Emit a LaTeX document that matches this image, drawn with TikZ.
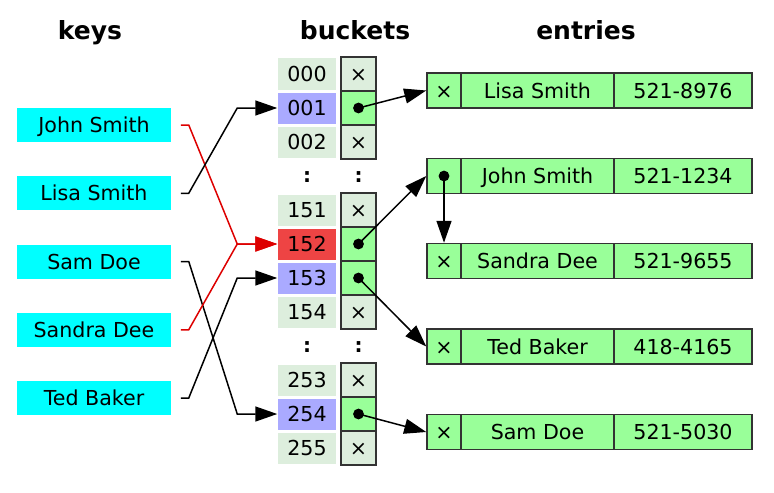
\documentclass[tikz,border=0pt]{standalone}
\usepackage{fontspec}
\setmainfont{DejaVu Sans}
\usetikzlibrary{arrows.meta}

\definecolor{keycyan}{HTML}{00FFFF}
\definecolor{slotgray}{HTML}{DDEEDD}
\definecolor{slotblue}{HTML}{AAAAFF}
\definecolor{slotred}{HTML}{EE4444}
\definecolor{entrygreen}{HTML}{99FF99}
\definecolor{linkred}{HTML}{DD0000}
\definecolor{cellline}{HTML}{333333}

\tikzset{
  key/.style={fill=keycyan, minimum width=77pt, minimum height=17pt, inner sep=0pt},
  slot/.style={fill=slotgray, minimum width=29pt, minimum height=15.5pt, inner sep=0pt},
  ptr/.style={draw=cellline, fill=slotgray, minimum width=17.5pt, minimum height=17pt, inner sep=0pt},
  cell/.style={draw=cellline, fill=entrygreen, minimum height=17.5pt, inner sep=0pt},
  title/.style={font=\fontsize{12.5}{15}\selectfont\bfseries, text height=11.5pt, text depth=2.4pt},
}

\begin{document}
\begin{tikzpicture}[x=0.5pt, y=-0.5pt, line width=0.75pt,
    >={Triangle[length=11pt,width=7.5pt]},
    every node/.style={font=\fontsize{10.3}{12}\selectfont, text height=9.5pt, text depth=2pt}]
    \useasboundingbox (0,0) rectangle (774,492);

    % Titles
    \node[title] (tkeys) at (90,30) {keys};
    \node[title] (tbuckets) at (355,30) {buckets};
    \node[title] (tentries) at (586,30) {entries};

    % Keys
    \node[key] (kjohn) at (94,125) {John Smith};
    \node[key] (klisa) at (94,193.25) {Lisa Smith};
    \node[key] (ksam) at (94,261.5) {Sam Doe};
    \node[key] (ksandra) at (94,329.75) {Sandra Dee};
    \node[key] (kted) at (94,398) {Ted Baker};

    % Bucket indices
    \node[slot] (s000) at (307,74) {000};
    \node[slot,fill=slotblue] (s001) at (307,108) {001};
    \node[slot] (s002) at (307,142) {002};
    \node[slot] (s151) at (307,210) {151};
    \node[slot,fill=slotred] (s152) at (307,244) {152};
    \node[slot,fill=slotblue] (s153) at (307,278) {153};
    \node[slot] (s154) at (307,312) {154};
    \node[slot] (s253) at (307,380) {253};
    \node[slot,fill=slotblue] (s254) at (307,414) {254};
    \node[slot] (s255) at (307,448) {255};
    \node[font=\bfseries] (vdotsa) at (307,175) {:};
    \node[font=\bfseries] (vdotsb) at (307,345) {:};

    % Bucket pointers
    \node[ptr] (p000) at (358.5,74) {×};
    \node[ptr,fill=entrygreen] (p001) at (358.5,108) {};
    \node[ptr] (p002) at (358.5,142) {×};
    \node[ptr] (p151) at (358.5,210) {×};
    \node[ptr,fill=entrygreen] (p152) at (358.5,244) {};
    \node[ptr,fill=entrygreen] (p153) at (358.5,278) {};
    \node[ptr] (p154) at (358.5,312) {×};
    \node[ptr] (p253) at (358.5,380) {×};
    \node[ptr,fill=entrygreen] (p254) at (358.5,414) {};
    \node[ptr] (p255) at (358.5,448) {×};
    \node[font=\bfseries] (vdotsc) at (358.5,175) {:};
    \node[font=\bfseries] (vdotsd) at (358.5,345) {:};

    % Entries
    \node[cell,minimum width=17pt] (e1p) at (444,90.5) {×};
    \node[cell,minimum width=76.5pt] (e1n) at (537.5,90.5) {Lisa Smith};
    \node[cell,minimum width=69pt] (e1t) at (683,90.5) {521-8976};
    \node[cell,minimum width=17pt] (e2p) at (444,176) {};
    \node[cell,minimum width=76.5pt] (e2n) at (537.5,176) {John Smith};
    \node[cell,minimum width=69pt] (e2t) at (683,176) {521-1234};
    \node[cell,minimum width=17pt] (e3p) at (444,261) {×};
    \node[cell,minimum width=76.5pt] (e3n) at (537.5,261) {Sandra Dee};
    \node[cell,minimum width=69pt] (e3t) at (683,261) {521-9655};
    \node[cell,minimum width=17pt] (e4p) at (444,346.5) {×};
    \node[cell,minimum width=76.5pt] (e4n) at (537.5,346.5) {Ted Baker};
    \node[cell,minimum width=69pt] (e4t) at (683,346.5) {418-4165};
    \node[cell,minimum width=17pt] (e5p) at (444,432) {×};
    \node[cell,minimum width=76.5pt] (e5n) at (537.5,432) {Sam Doe};
    \node[cell,minimum width=69pt] (e5t) at (683,432) {521-5030};

    % Hashing keys to buckets
    \draw[->,linkred] ([xshift=4.5pt]kjohn.east) -- ++(4pt,0) -- ([xshift=-20pt]s152.west) -- (s152.west);
    \draw[->] ([xshift=4.5pt]klisa.east) -- ++(4pt,0) -- ([xshift=-20pt]s001.west) -- (s001.west);
    \draw[->] ([xshift=4.5pt]ksam.east) -- ++(4pt,0) -- ([xshift=-20pt]s254.west) -- (s254.west);
    \draw[->,linkred] ([xshift=4.5pt]ksandra.east) -- ++(4pt,0) -- ([xshift=-20pt]s152.west) -- (s152.west);
    \draw[->] ([xshift=4.5pt]kted.east) -- ++(4pt,0) -- ([xshift=-20pt]s153.west) -- (s153.west);

    % Buckets to entries
    \draw[->] (p001.center) -- (e1p.west);
    \draw[->] (p152.center) -- (e2p.west);
    \draw[->] (p153.center) -- (e4p.west);
    \draw[->] (p254.center) -- (e5p.west);
    \draw[->] (e2p.center) -- (e3p.north);

    % Pointer dots
    \fill (p001.center) circle (2.7pt);
    \fill (p152.center) circle (2.7pt);
    \fill (p153.center) circle (2.7pt);
    \fill (p254.center) circle (2.7pt);
    \fill (e2p.center) circle (2.7pt);

\end{tikzpicture}
\end{document}
